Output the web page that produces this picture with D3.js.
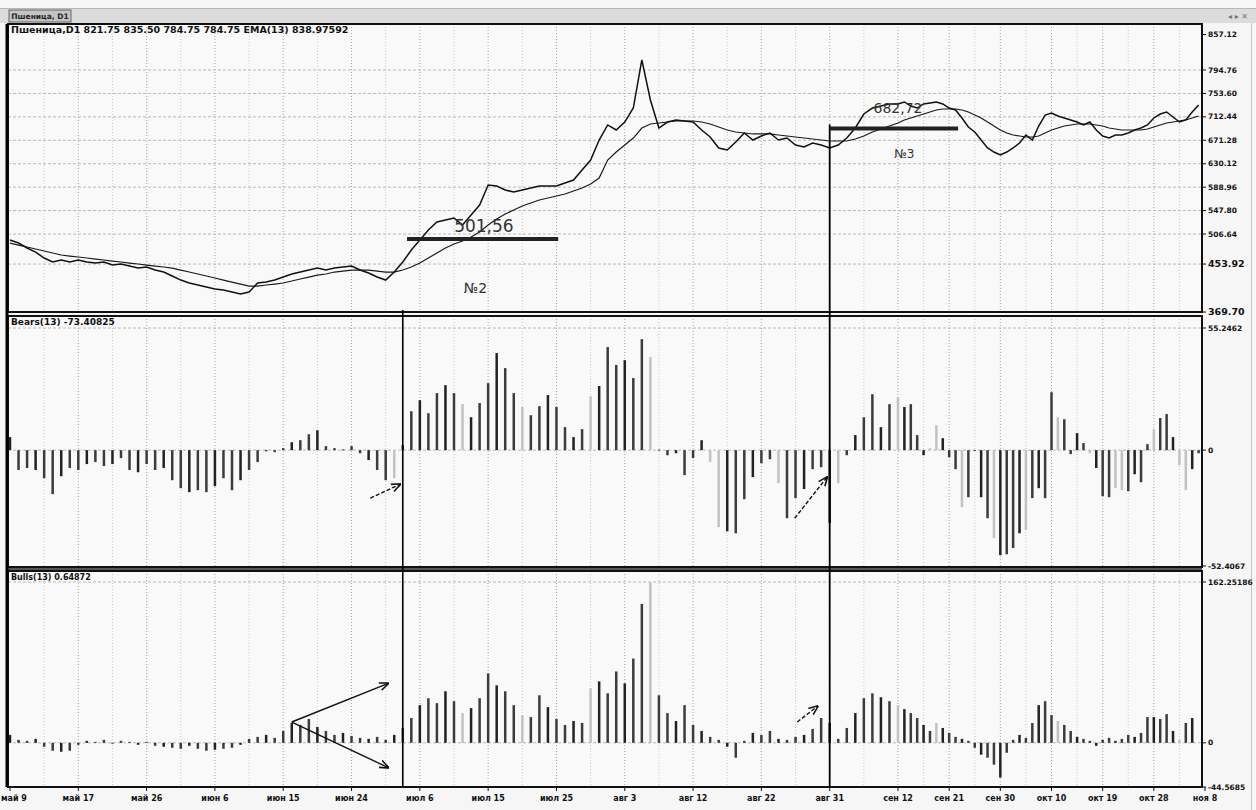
<!DOCTYPE html>
<html><head><meta charset="utf-8">
<script src="https://cdn.jsdelivr.net/npm/d3@7"></script>
<style>body{margin:0;background:#f5f5f5;} svg{display:block;font-family:"DejaVu Sans",sans-serif;}</style>
</head><body><svg id="c" width="1256" height="810"></svg>
<script>
// ---------- data ----------
const closePrice=[496.1,490.8,482.1,475.0,464.5,457.5,461.0,457.5,461.0,457.5,455.7,457.5,452.2,454.0,450.4,446.9,448.7,443.4,439.9,432.9,
425.8,420.6,417.1,413.5,410.0,408.3,404.8,401.2,404.8,420.6,422.3,425.8,431.1,436.4,439.9,443.4,446.9,443.4,446.9,448.7,
450.4,443.4,438.1,431.1,425.8,439.9,457.5,478.5,496.1,513.7,527.7,531.3,534.8,522.5,540.0,557.6,592.8,591.0,584.0,580.5,
584.0,587.5,591.0,591.0,591.0,596.3,601.5,619.1,636.7,671.8,698.2,689.4,703.4,728.0,812.4,742.1,692.9,703.4,707.0,705.2,
703.4,689.4,677.1,657.8,654.2,668.3,684.1,671.8,678.8,684.1,671.8,675.3,663.0,659.5,666.5,663.0,657.8,663.0,675.3,692.9,
717.5,728.0,731.6,735.1,735.1,738.6,731.6,728.0,735.1,736.8,738.6,735.1,728.0,724.5,710.5,694.7,685.9,671.8,657.8,650.7,
645.5,650.7,657.8,666.5,680.6,671.8,696.4,715.7,719.3,714.0,710.5,707.0,703.4,698.2,703.4,689.4,678.8,675.3,680.6,680.6,
684.1,689.4,692.9,698.2,710.5,717.5,721.0,712.2,703.4,707.0,721.0,733.3];
const emaPrice=[490.8,487.3,483.8,480.3,476.8,473.3,469.8,468.0,466.3,464.5,462.7,461.0,459.2,457.5,455.7,454.0,452.2,450.4,448.7,446.9,
443.4,439.9,436.4,432.9,429.4,425.8,422.3,418.8,415.3,415.3,417.1,418.8,420.6,424.1,427.6,431.1,434.6,436.4,439.9,441.6,
443.4,443.4,443.4,441.6,439.9,439.9,443.4,448.7,455.7,464.5,473.3,482.1,489.1,494.4,501.4,510.2,522.5,533.0,541.8,548.8,
555.9,561.1,566.4,569.9,573.4,576.9,582.2,587.5,594.5,605.1,636.7,650.7,663.0,675.3,692.9,699.9,701.7,703.4,705.2,705.2,
705.2,703.4,699.9,694.7,689.4,685.9,684.1,682.4,682.4,682.4,680.6,678.8,677.1,675.3,673.6,671.8,670.1,670.1,670.1,673.6,
678.8,685.9,691.1,696.4,701.7,707.0,710.5,714.0,717.5,721.0,724.5,726.3,726.3,726.3,724.5,721.0,715.7,710.5,703.4,696.4,
689.4,684.1,680.6,678.8,677.1,677.1,678.8,684.1,689.4,692.9,696.4,698.2,699.9,699.9,699.9,698.2,696.4,692.9,691.1,689.4,
689.4,689.4,689.4,691.1,694.7,698.2,701.7,703.4,705.2,707.0,710.5,714.0];
const bears=[5.9,-9.0,-8.1,-9.0,-12.7,-19.9,-11.8,-8.1,-9.0,-6.3,-5.4,-7.2,-6.3,-3.6,-9.0,-10.0,-6.3,-9.0,-8.1,-13.6,
-17.2,-19.0,-18.1,-19.0,-16.3,-12.7,-18.1,-13.6,-9.0,-5.4,-0.5,-0.9,0.9,3.6,4.5,7.2,9.0,1.8,0.9,0.3,
1.8,-1.4,-4.5,-9.0,-13.6,-12.7,2.3,17.6,22.6,16.7,25.8,29.4,25.8,20.8,14.9,21.3,30.3,43.9,37.1,25.8,
19.5,15.8,19.9,24.9,19.5,10.4,5.9,9.5,24.4,29.0,46.6,38.5,40.7,32.6,50.2,42.1,0.2,-2.3,-1.4,-11.3,
-3.6,4.5,-5.4,-34.8,-36.7,-37.6,-22.2,-12.2,-5.9,-4.1,-14.9,-30.8,-21.7,-17.6,-8.6,-7.7,-33.0,-14.9,-2.3,6.8,
14.9,25.3,10.4,20.8,24.0,19.5,20.8,6.8,-2.3,0.9,11.3,5.4,-3.2,-8.6,-25.8,-21.3,-0.3,-21.3,-30.8,-39.8,
-47.5,-47.1,-44.3,-37.6,-36.2,-21.7,-17.2,-21.7,26.2,14.9,14.0,-1.8,7.7,3.2,-1.4,-8.1,-20.8,-21.3,-17.2,-18.1,
-18.6,-10.9,-14.5,2.7,9.5,14.5,16.3,5.9,-6.8,-18.1,-8.6,-1.4];
const bulls=[8,3,2,4,-4,-8,-9,-8,-2,2,1,3,0,2,1,-2,1,-3,-4,-5,
-6,-3,-6,-8,-7,-6,-5,-2,4,6,8,5,12,20,18,24,16,12,8,10,
7,5,4,6,3,8,15,25,38,45,40,52,42,30,35,45,70,58,52,38,
28,26,48,36,24,18,22,20,55,62,50,72,60,85,140,162,48,30,22,38,
18,12,6,3,-4,-15,2,10,8,12,4,3,6,8,14,25,20,4,15,30,
45,50,46,42,38,34,30,25,18,12,20,15,10,6,4,2,-5,-12,-15,-22,
-35,-10,3,8,5,20,38,42,28,22,18,12,6,4,2,-3,3,5,2,4,
8,6,10,26,26,24,29,12,3,20,25];
const dateLabels=["май 9","май 17","май 26","июн 6","июн 15","июн 24","июл 6","июл 15","июл 25","авг 3",
"авг 12","авг 22","авг 31","сен 12","сен 21","сен 30","окт 10","окт 19","окт 28","ноя 8"];
const priceTicks=[857.12,794.76,753.60,712.44,671.28,630.12,588.96,547.80,506.64,453.92,369.70];
const bearsTicks=[55.2462,0,-52.4067];
const bullsTicks=[162.25186,0,-44.5685];
const bearsLight=[45,53,60,68,75,82,83,90,97,104,109,110,114,119,124,129,134,138,139,144,148,149];
const bullsLight=[53,60,68,75,104,110,129,148];

// ---------- layout ----------
const svg=d3.select("#c");
const L=8,R=1202;
const P1={t:24,b:312},P2={t:316,b:567},P3={t:571,b:787};
const x=d3.scaleLinear().domain([0,104,152]).range([10,898,1205]);
const yP=d3.scaleLinear().domain([369.70,857.12]).range([312,34.5]);
const yB=d3.scaleLinear().domain([-52.4067,55.2462]).range([566,328]);
const yU=d3.scaleLinear().domain([-44.5685,162.25186]).range([787,582]);

// backgrounds
svg.append("rect").attr("x",0).attr("y",0).attr("width",1256).attr("height",810).attr("fill","#f6f6f6");
svg.append("rect").attr("x",0).attr("y",8).attr("width",1256).attr("height",15).attr("fill","#dcdcdc");
svg.append("line").attr("x1",0).attr("x2",1256).attr("y1",8.5).attr("y2",8.5).attr("stroke","#b8b8b8");
svg.append("rect").attr("x",9).attr("y",10).attr("width",62).attr("height",12).attr("fill","#c4c4c4").attr("stroke","#666");
svg.append("text").attr("x",40).attr("y",19).attr("text-anchor","middle").attr("font-size",7.5).attr("font-weight","bold").attr("fill","#222").text("Пшеница, D1");
svg.append("text").attr("x",1238).attr("y",19).attr("text-anchor","middle").attr("font-size",8).attr("fill","#777").text("◂ ▸ ✕");
svg.append("line").attr("x1",1251.5).attr("x2",1251.5).attr("y1",23).attr("y2",810).attr("stroke","#c8c8c8");
[P1,P2,P3].forEach(p=>svg.append("rect").attr("x",L).attr("y",p.t).attr("width",R-L).attr("height",p.b-p.t).attr("fill","#f9f9f9"));
svg.append("rect").attr("x",L).attr("y",P2.b).attr("width",R-L).attr("height",P3.t-P2.b).attr("fill","#555");

// clip paths
const defs=svg.append("defs");
[["c1",P1],["c2",P2],["c3",P3]].forEach(([id,p])=>defs.append("clipPath").attr("id",id).append("rect").attr("x",L).attr("y",p.t).attr("width",R-L).attr("height",p.b-p.t));
defs.append("marker").attr("id","ah").attr("viewBox","0 0 10 10").attr("refX",9).attr("refY",5).attr("markerWidth",7).attr("markerHeight",7).attr("orient","auto")
  .append("path").attr("d","M0,1 L10,5 L0,9").attr("fill","none").attr("stroke","#111").attr("stroke-width",1.6);

// vertical grid every 4 bars
const gridIdx=d3.range(0,153,4);
[P1,P2,P3].forEach(p=>{
  svg.append("g").selectAll("line").data(gridIdx.filter(i=>x(i)>L+2&&x(i)<R-2)).join("line")
    .attr("x1",i=>x(i)).attr("x2",i=>x(i)).attr("y1",p.t).attr("y2",p.b)
    .attr("stroke",i=>i%8===0?"#a8a8a8":"#c8c8c8").attr("stroke-dasharray","1,2").attr("stroke-width",1);
});
// horizontal grid
function hgrid(scale,ticks){svg.append("g").selectAll("line").data(ticks).join("line")
  .attr("x1",L).attr("x2",R).attr("y1",d=>scale(d)).attr("y2",d=>scale(d))
  .attr("stroke","#b8b8b8").attr("stroke-dasharray","3,2");}
hgrid(yP,priceTicks.slice(1,-1));
hgrid(yB,[bearsTicks[0],0]);
hgrid(yU,[bullsTicks[0],0]);

// price lines
const g1=svg.append("g").attr("clip-path","url(#c1)");
const lineP=d3.line().x((d,i)=>x(i)).y(d=>yP(d));
g1.append("path").attr("d",lineP(emaPrice)).attr("fill","none").attr("stroke","#1a1a1a").attr("stroke-width",1.2);
g1.append("path").attr("d",lineP(closePrice)).attr("fill","none").attr("stroke","#111").attr("stroke-width",1.5);

// histograms
function hist(clip,scale,vals,light){
  const s=new Set(light);
  svg.append("g").attr("clip-path",`url(#${clip})`).selectAll("rect").data(vals).join("rect")
    .attr("x",(d,i)=>x(i)-1.25).attr("width",2.5)
    .attr("y",d=>scale(Math.max(0,d))).attr("height",d=>Math.max(0.8,Math.abs(scale(d)-scale(0))))
    .attr("fill",(d,i)=>s.has(i)?"#c2c2c2":(i%3===0?"#222":"#3c3c3c"));
}
hist("c2",yB,bears,bearsLight);
hist("c3",yU,bulls,bullsLight);

// frames
[P1,P2,P3].forEach(p=>svg.append("rect").attr("x",L).attr("y",p.t).attr("width",R-L).attr("height",p.b-p.t).attr("fill","none").attr("stroke","#111").attr("stroke-width",2));
svg.append("line").attr("x1",7).attr("x2",7).attr("y1",P1.t).attr("y2",P3.b).attr("stroke","#000").attr("stroke-width",3);

// right axes
function raxis(scale,ticks,big){
  const g=svg.append("g");
  ticks.forEach((v,k)=>{
    const y=scale(v);
    g.append("line").attr("x1",R).attr("x2",R+4).attr("y1",y).attr("y2",y).attr("stroke","#111");
    const isBig=big&&k>=ticks.length-2;
    g.append("text").attr("x",R+6).attr("y",y).attr("dy","0.35em").attr("font-size",isBig?9.5:7.5).attr("font-weight","bold").attr("fill","#111")
      .text(Math.abs(v)<1e-9?"0":String(v.toFixed(v===Math.round(v*100)/100?2:(String(v).split(".")[1]||"").length)));
  });
}
raxis(yP,priceTicks,true);
raxis(yB,bearsTicks,false);
raxis(yU,bullsTicks,false);

// x axis
const xg=svg.append("g");
dateLabels.forEach((t,k)=>{
  const xi=x(k*8);
  xg.append("line").attr("x1",xi).attr("x2",xi).attr("y1",P3.b).attr("y2",P3.b+4).attr("stroke","#111");
  xg.append("text").attr("x",k===0?1:xi).attr("y",801).attr("text-anchor",k===0?"start":"middle").attr("font-size",8).attr("font-weight","bold").attr("fill","#111").text(t);
});

// legends
svg.append("text").attr("x",11).attr("y",33).attr("font-size",9.5).attr("font-weight","bold").attr("fill","#111")
  .text("Пшеница,D1  821.75 835.50 784.75 784.75 EMA(13) 838.97592");
svg.append("text").attr("x",11).attr("y",325).attr("font-size",9).attr("font-weight","bold").attr("fill","#111").text("Bears(13) -73.40825");
svg.append("text").attr("x",11).attr("y",580).attr("font-size",8).attr("font-weight","bold").attr("fill","#111").text("Bulls(13) 0.64872");

// annotations
const ann=svg.append("g");
ann.append("line").attr("x1",x(46)).attr("x2",x(46)).attr("y1",310).attr("y2",P3.b).attr("stroke","#000").attr("stroke-width",1.6);
ann.append("line").attr("x1",x(96)).attr("x2",x(96)).attr("y1",yP(699)).attr("y2",P3.b).attr("stroke","#000").attr("stroke-width",1.8);
ann.append("line").attr("x1",x(46.5)).attr("x2",x(64.2)).attr("y1",yP(498)).attr("y2",yP(498)).attr("stroke","#222").attr("stroke-width",4);
ann.append("line").attr("x1",x(96)).attr("x2",x(113.4)).attr("y1",yP(692)).attr("y2",yP(692)).attr("stroke","#222").attr("stroke-width",4);
ann.append("text").attr("x",x(55.5)).attr("y",yP(511)).attr("text-anchor","middle").attr("font-size",17).attr("fill","#333").text("501,56");
ann.append("text").attr("x",x(54.5)).attr("y",yP(403)).attr("text-anchor","middle").attr("font-size",14).attr("fill","#333").text("№2");
ann.append("text").attr("x",x(104)).attr("y",yP(719)).attr("text-anchor","middle").attr("font-size",14).attr("fill","#333").text("682,72");
ann.append("text").attr("x",x(105)).attr("y",yP(640)).attr("text-anchor","middle").attr("font-size",12).attr("fill","#333").text("№3");
function arrow(scale,i1,v1,i2,v2,dash){
  ann.append("line").attr("x1",x(i1)).attr("y1",scale(v1)).attr("x2",x(i2)).attr("y2",scale(v2))
    .attr("stroke","#111").attr("stroke-width",1.4).attr("stroke-dasharray",dash?"4,2":null).attr("marker-end","url(#ah)");
}
arrow(yB,42.2,-21.7,45.7,-15.4,true);
arrow(yB,91.9,-30.8,95.7,-12.2,true);
arrow(yU,33.0,21,44.3,60,false);
arrow(yU,33.0,21,44.3,-25,false);
arrow(yU,92.2,21,94.6,37,true);
</script></body></html>
